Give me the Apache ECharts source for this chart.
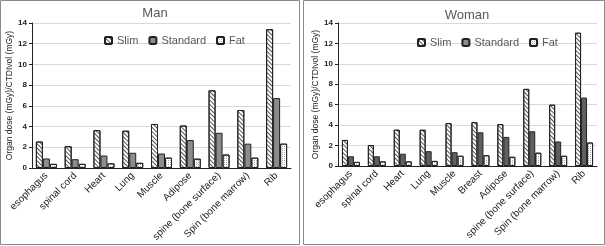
<!DOCTYPE html>
<html>
<head>
<meta charset="utf-8">
<script src="https://cdn.jsdelivr.net/npm/echarts@6/dist/echarts.min.js"></script>
<style>
  html, body { margin: 0; padding: 0; background: #fff; }
  #chart { width: 605px; height: 246px; }
</style>
</head>
<body>
<div id="chart"></div>
<script>
const manOrgans = ["esophagus", "spinal cord", "Heart", "Lung", "Muscle", "Adipose",
  "spine (bone surface)", "Spin (bone marrow)", "Rib"];
const manSlim = [2.55, 2.1, 3.65, 3.6, 4.25, 4.1, 7.5, 5.6, 13.4];
const manStandard = [0.92, 0.85, 1.2, 1.47, 1.4, 2.7, 3.4, 2.35, 6.75];
const manFat = [0.4, 0.4, 0.45, 0.5, 1.0, 0.9, 1.3, 1.0, 2.35];

const womanOrgans = ["esophagus", "spinal cord", "Heart", "Lung", "Muscle", "Breast", "Adipose",
  "spine (bone surface)", "Spin (bone marrow)", "Rib"];
const womanSlim = [2.55, 2.05, 3.55, 3.55, 4.2, 4.3, 4.1, 7.55, 6.0, 13.05];
const womanStandard = [0.95, 0.95, 1.2, 1.45, 1.35, 3.3, 2.85, 3.4, 2.4, 6.7];
const womanFat = [0.4, 0.45, 0.45, 0.5, 1.0, 1.05, 0.9, 1.3, 1.0, 2.3];

const yTicks = [0, 2, 4, 6, 8, 10, 12, 14];

const font = "Liberation Sans";
const textColor = "#595959";

const slimStyle = {
  color: "#fff",
  borderColor: "#222",
  borderWidth: 1,
  decal: {
    symbol: "rect",
    color: "#555",
    dashArrayX: [1, 0],
    dashArrayY: [1, 2],
    rotation: Math.PI / 4,
  },
};
const fatStyle = {
  color: "#fff",
  borderColor: "#222",
  borderWidth: 1,
  decal: {
    symbol: "rect",
    color: "#aaa",
    dashArrayX: [1, 1],
    dashArrayY: [1, 1],
  },
};

function xAxisOf(idx, data) {
  return {
    type: "category",
    gridIndex: idx,
    data: data,
    axisTick: { show: false },
    axisLine: { lineStyle: { color: "#222", width: 1 } },
    axisLabel: {
      rotate: 45,
      interval: 0,
      fontFamily: font,
      fontSize: 10,
      color: "#222",
      margin: 6,
    },
  };
}

function yAxisOf(idx) {
  return {
    type: "value",
    gridIndex: idx,
    min: yTicks[0],
    max: yTicks[yTicks.length - 1],
    interval: yTicks[1] - yTicks[0],
    name: "Organ dose (mGy)/CTDIvol (mGy)",
    nameLocation: "middle",
    nameGap: 18,
    nameTextStyle: { fontFamily: font, fontSize: 8.5, color: "#222" },
    axisLine: { show: true, lineStyle: { color: "#222", width: 1 } },
    axisTick: { show: true, length: 3, lineStyle: { color: "#222" } },
    axisLabel: { fontFamily: font, fontSize: 8, fontWeight: "bold", color: "#222", margin: 5 },
    splitLine: { lineStyle: { color: "#d9d9d9" } },
  };
}

function barsOf(idx, slim, standard, fat, stdColor, width) {
  const base = { type: "bar", xAxisIndex: idx, yAxisIndex: idx, barWidth: width, barGap: "0%" };
  return [
    Object.assign({ name: "Slim", data: slim, itemStyle: slimStyle }, base),
    Object.assign({ name: "Standard", data: standard,
      itemStyle: { color: stdColor, borderColor: "#222", borderWidth: 1 } }, base),
    Object.assign({ name: "Fat", data: fat, itemStyle: fatStyle }, base),
  ];
}

function legendOf(left, top) {
  return {
    left: left,
    top: top,
    itemWidth: 7,
    itemHeight: 7,
    itemGap: 10,
    textStyle: { fontFamily: font, fontSize: 11, color: textColor },
    data: ["Slim", "Standard", "Fat"],
  };
}

const chart = echarts.init(document.getElementById("chart"));
chart.setOption({
  animation: false,
  title: [
    { text: "Man", left: 150, top: 2, textAlign: "center",
      textStyle: { fontFamily: font, fontSize: 13, fontWeight: "normal", color: textColor } },
    { text: "Woman", left: 462, top: 4, textAlign: "center",
      textStyle: { fontFamily: font, fontSize: 13, fontWeight: "normal", color: textColor } },
  ],
  legend: [legendOf(99, 30), legendOf(412, 32)],
  graphic: [
    { type: "rect", shape: { x: 0.5, y: 0.5, width: 299, height: 244 },
      style: { fill: null, stroke: "#8a8a8a", lineWidth: 1 } },
    { type: "rect", shape: { x: 303.5, y: 0.5, width: 301, height: 244 },
      style: { fill: null, stroke: "#8a8a8a", lineWidth: 1 } },
  ],
  grid: [
    { left: 32, top: 23, width: 259, height: 145 },
    { left: 338, top: 23, width: 259, height: 143 },
  ],
  xAxis: [xAxisOf(0, manOrgans), xAxisOf(1, womanOrgans)],
  yAxis: [yAxisOf(0), yAxisOf(1)],
  series: [].concat(
    barsOf(0, manSlim, manStandard, manFat, "#8c8c8c", 7),
    barsOf(1, womanSlim, womanStandard, womanFat, "#606060", 6)
  ),
});
</script>
</body>
</html>
